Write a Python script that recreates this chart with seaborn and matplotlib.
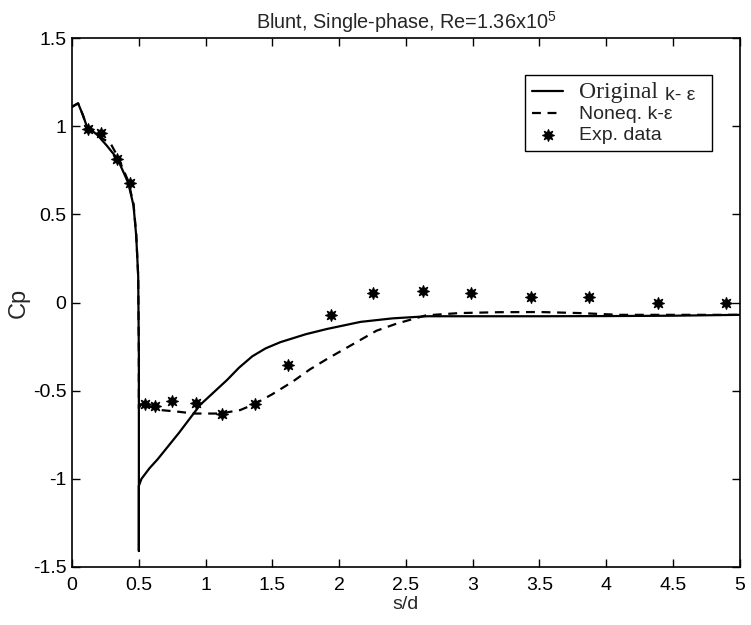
import matplotlib
matplotlib.use("Agg")
import matplotlib.pyplot as plt
import pandas as pd
import seaborn as sns

# Original k-epsilon (solid)
orig_s = [0.0, 0.02, 0.045, 0.08, 0.11, 0.19, 0.26, 0.34, 0.42, 0.46, 0.48, 0.495, 0.5, 0.5, 0.5,
          0.52, 0.58, 0.64, 0.8, 0.96, 1.16, 1.25, 1.35, 1.45, 1.56, 1.75, 1.91, 2.16, 2.4, 2.66,
          3.0, 3.5, 4.0, 4.5, 5.0]
orig_cp = [1.11, 1.12, 1.13, 1.065, 1.0, 0.95, 0.89, 0.815, 0.68, 0.55, 0.38, 0.15, -0.3, -1.41, -1.04,
           -1.0, -0.94, -0.89, -0.74, -0.58, -0.44, -0.37, -0.305, -0.26, -0.225, -0.18, -0.15, -0.11, -0.09, -0.078,
           -0.078, -0.078, -0.077, -0.075, -0.07]

# Noneq. k-epsilon (dashed)
noneq_s = [0.0, 0.045, 0.08, 0.11, 0.2, 0.29, 0.34, 0.42, 0.46, 0.48, 0.495, 0.5, 0.5,
           0.52, 0.58, 0.66, 0.8, 0.91, 1.11, 1.26, 1.37, 1.5, 1.65, 1.78, 1.91, 2.13, 2.28, 2.43,
           2.65, 2.9, 3.2, 3.5, 3.8, 4.1, 4.5, 5.0]
noneq_cp = [1.11, 1.13, 1.065, 1.0, 0.945, 0.9, 0.83, 0.69, 0.56, 0.39, 0.15, -0.3, -0.6,
            -0.57, -0.59, -0.61, -0.62, -0.63, -0.63, -0.61, -0.575, -0.52, -0.45, -0.38, -0.32, -0.225, -0.16, -0.12,
            -0.073, -0.06, -0.055, -0.054, -0.06, -0.07, -0.07, -0.07]

# Experimental data
exp_s = [0.12, 0.22, 0.34, 0.43, 0.545, 0.62, 0.75, 0.93, 1.12, 1.37, 1.62, 1.94, 2.25, 2.63, 2.99, 3.44, 3.87, 4.39, 4.9]
exp_cp = [0.985, 0.96, 0.815, 0.68, -0.575, -0.59, -0.56, -0.57, -0.63, -0.575, -0.355, -0.07, 0.055, 0.065, 0.054, 0.03, 0.03, 0.0, 0.0]

sns.set_style("ticks")
plt.rcParams["font.family"] = ["Liberation Sans", "DejaVu Sans"]
plt.rcParams["mathtext.fontset"] = "custom"
plt.rcParams["mathtext.rm"] = "Liberation Sans"
plt.rcParams["mathtext.it"] = "Liberation Sans"

fig = plt.figure(figsize=(7.51, 6.25), dpi=100)
ax = fig.add_axes([0.096, 0.093, 0.889, 0.846])

df_orig = pd.DataFrame({"s": orig_s, "cp": orig_cp})
df_noneq = pd.DataFrame({"s": noneq_s, "cp": noneq_cp})
df_exp = pd.DataFrame({"s": exp_s, "cp": exp_cp})

sns.lineplot(data=df_orig, x="s", y="cp", sort=False, estimator=None, color="black",
             linewidth=1.6, ax=ax, label="Original")
sns.lineplot(data=df_noneq, x="s", y="cp", sort=False, estimator=None, color="black",
             linewidth=1.6, linestyle=(0, (4, 3)), ax=ax, label="Noneq. k-ε")
sns.scatterplot(data=df_exp, x="s", y="cp", marker=(8, 1, 0), color="black", s=70,
                edgecolor="black", linewidth=0.9, ax=ax, label="Exp. data")

ax.set_xlim(0, 5)
ax.set_ylim(-1.5, 1.5)
ax.set_xticks([0, 0.5, 1, 1.5, 2, 2.5, 3, 3.5, 4, 4.5, 5])
ax.set_xticklabels(["0", "0.5", "1", "1.5", "2", "2.5", "3", "3.5", "4", "4.5", "5"])
ax.set_yticks([-1.5, -1, -0.5, 0, 0.5, 1, 1.5])
ax.set_yticklabels(["-1.5", "-1", "-0.5", "0", "0.5", "1", "1.5"])
ax.tick_params(direction="in", top=True, right=True, length=6, width=1, labelsize=14, colors="black")
ax.tick_params(axis="y", pad=4)
ax.tick_params(axis="x", pad=7)
for sp in ax.spines.values():
    sp.set_linewidth(1.2)
    sp.set_color("black")

ax.set_title("Blunt, Single-phase, Re=1.36x10$^5$", fontsize=14.3, pad=7)
ax.set_xlabel("s/d", fontsize=14, labelpad=2)
ax.set_ylabel("Cp", fontsize=17)
ax.yaxis.set_label_coords(-0.063, 0.5)

leg = ax.legend(loc="upper right", bbox_to_anchor=(0.958, 0.93), borderaxespad=0, fontsize=14,
                frameon=True, fancybox=False, edgecolor="black", framealpha=1, handlelength=1.6,
                borderpad=0.35, labelspacing=0.15, handletextpad=0.8)
leg.get_frame().set_linewidth(1.0)

# first legend entry: "Original" in a serif face, "k- ε" in sans placed after it
texts = leg.get_texts()
t0 = texts[0]
t0.set_fontfamily(["Liberation Serif"])
t0.set_fontsize(17)
fig.canvas.draw()
w0 = t0.get_window_extent().width

# widen the legend box (via trailing blanks on the second entry) to hold "k- ε"
n = 0
while leg.get_window_extent().width < 186 and n < 30:
    n += 1
    texts[1].set_text("Noneq. k-ε" + "\u2007" * n)
    fig.canvas.draw()

bb = t0.get_window_extent()
fx, fy = fig.transFigure.inverted().transform((bb.x0 + w0 + 7, bb.y0 - 1))
fig.text(fx, fy, "k- ε", fontsize=14, ha="left", va="bottom")

fig.savefig("out.png", dpi=100)
